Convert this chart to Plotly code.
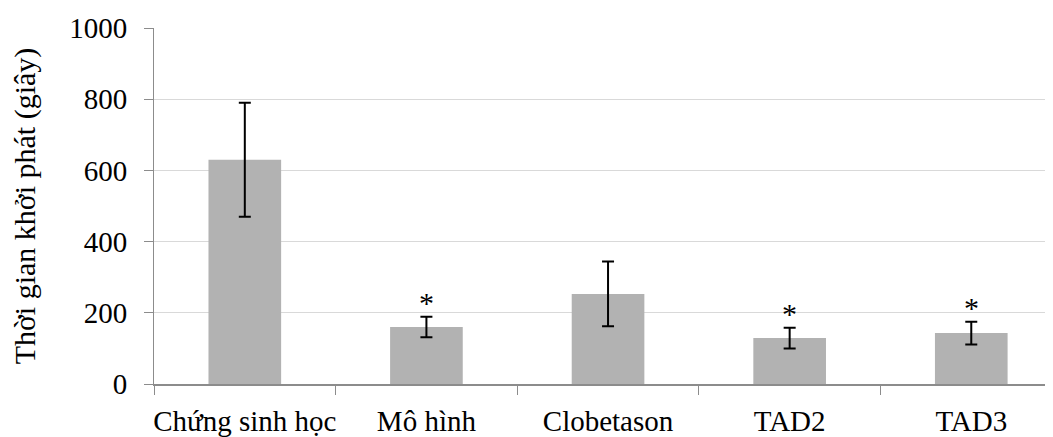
import plotly.graph_objects as go

categories = ["Chứng sinh học", "Mô hình", "Clobetason", "TAD2", "TAD3"]
values = [630, 160, 253, 129, 143]
errors = [160, 29, 91, 29, 32]
significant = [False, True, False, True, True]
y_ticks = [0, 200, 400, 600, 800, 1000]

FONT = "Liberation Serif"

fig = go.Figure()
fig.add_trace(go.Bar(
    x=list(range(len(categories))),
    y=values,
    width=0.4,
    marker=dict(color="#b2b2b2", line=dict(width=0)),
    error_y=dict(type="data", array=errors, visible=True, color="black",
                 thickness=2, width=6),
    showlegend=False,
))

for i, (v, e, s) in enumerate(zip(values, errors, significant)):
    if s:
        fig.add_annotation(x=i, y=v + e, text="*", showarrow=False,
                           xref="x", yref="y", yanchor="bottom", yshift=-4,
                           font=dict(family=FONT, size=30, color="black"))

# page body has an 8px default margin; compensate so the plot fills the window
fig.update_layout(
    width=1045, height=429,
    margin=dict(l=146, r=0, t=20, b=53),
    paper_bgcolor="white", plot_bgcolor="white",
    font=dict(family=FONT, color="black"),
)
fig.update_xaxes(
    range=[-0.5, 4.45],
    tickmode="array",
    tickvals=list(range(len(categories))),
    ticktext=categories,
    tickfont=dict(family=FONT, size=29, color="black"),
    ticklabelstandoff=10,
    showline=True, linecolor="#8c8c8c", linewidth=2,
    ticks="", showgrid=False, zeroline=False,
    automargin=False,
    minor=dict(tickmode="array", tickvals=[-0.5, 0.5, 1.5, 2.5, 3.5],
               ticks="outside", ticklen=9, tickcolor="#8c8c8c", tickwidth=1),
)
fig.update_yaxes(
    range=[0, 1000],
    tickmode="array", tickvals=y_ticks,
    tickfont=dict(family=FONT, size=29, color="black"),
    ticklabelstandoff=11,
    showline=True, linecolor="#8c8c8c", linewidth=1,
    ticks="outside", ticklen=9, tickcolor="#8c8c8c",
    showgrid=True, gridcolor="#d9d9d9", gridwidth=1,
    zeroline=False, automargin=False,
    title=dict(text="Thời gian khởi phát (giây)", font=dict(family=FONT, size=30, color="black"),
               standoff=27),
)

fig.write_html("out.html")
